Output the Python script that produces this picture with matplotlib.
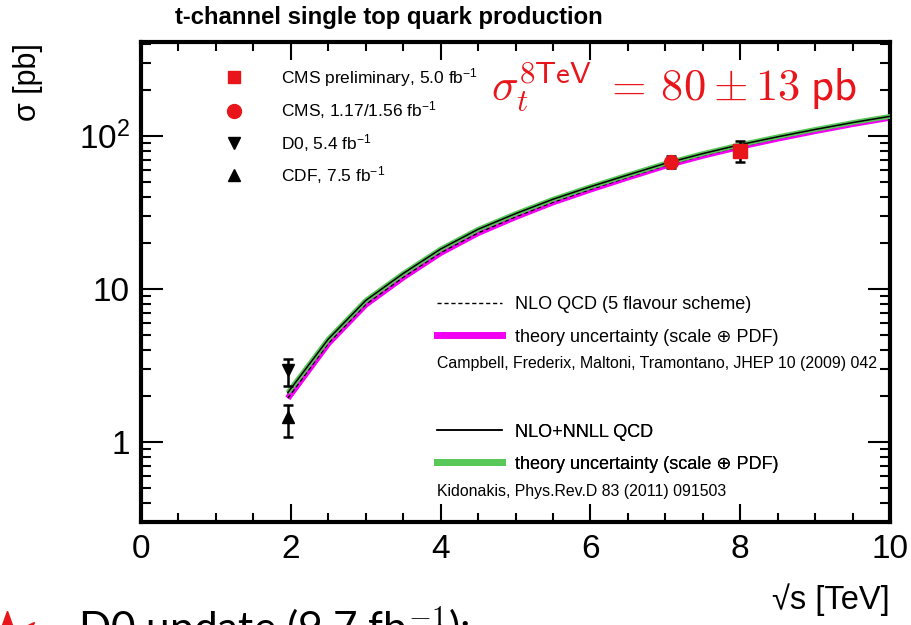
import numpy as np
import matplotlib
matplotlib.use("Agg")
import matplotlib.pyplot as plt
from matplotlib.lines import Line2D
from matplotlib.ticker import MultipleLocator, LogLocator, NullFormatter

plt.rcParams['font.family'] = ['Liberation Sans', 'DejaVu Sans']
plt.rcParams['mathtext.fontset'] = 'custom'
plt.rcParams['mathtext.rm'] = 'Liberation Sans'
plt.rcParams['mathtext.it'] = 'Liberation Sans:italic'
plt.rcParams['mathtext.bf'] = 'Liberation Sans:bold'

# theory predictions, t-channel cross section vs centre-of-mass energy
sqrt_s = [1.96, 2.5, 3.0, 3.5, 4.0, 4.5, 5.0, 5.5, 6.0, 6.5, 7.0, 7.5, 8.0, 8.5, 9.0, 9.5, 10.0]
nlo_nnll = [2.1, 4.7, 8.4, 12.6, 18.2, 24.5, 31.0, 38.5, 46.5, 55.5, 66.0, 76.5, 87.5, 98.5, 110.0, 122.0, 134.0]
nlo_5fs = [1.93, 4.4, 7.9, 11.9, 17.2, 23.2, 29.5, 36.8, 44.6, 53.5, 63.8, 74.2, 85.0, 96.0, 107.5, 119.5, 131.5]

# measurements: (x, sigma, err_down, err_up)
cms8_x, cms8_y, cms8_lo, cms8_hi = 8.0, 80.0, 13.0, 13.0
cms7_x, cms7_y, cms7_lo, cms7_hi = 7.08, 67.2, 6.0, 6.2
d0_x, d0_y, d0_lo, d0_hi = 1.96, 2.95, 0.63, 0.55
cdf_x, cdf_y, cdf_lo, cdf_hi = 1.96, 1.46, 0.39, 0.28

RED = '#e8161b'
MAGENTA = '#f200f2'
GREEN = '#58c858'

fig = plt.figure(figsize=(9.12, 6.25), dpi=100)
ax = fig.add_axes([0.1546, 0.1648, 0.8213, 0.768])

# bands first, central lines on top
ax.plot(sqrt_s, nlo_5fs, color=MAGENTA, lw=4.5, solid_capstyle='butt', zorder=2)
ax.plot(sqrt_s, nlo_5fs, color='black', lw=1.0, ls=(0, (3, 2)), zorder=3)
ax.plot(sqrt_s, nlo_nnll, color=GREEN, lw=3.5, solid_capstyle='butt', zorder=4)
ax.plot(sqrt_s, nlo_nnll, color='black', lw=1.1, zorder=5)

ekw = dict(ecolor='black', elinewidth=1.8, capsize=3.5, capthick=1.8, ls='none', zorder=6)
ax.errorbar([d0_x], [d0_y], yerr=[[d0_lo], [d0_hi]], marker='v', ms=8, color='black', **ekw)
ax.errorbar([cdf_x], [cdf_y], yerr=[[cdf_lo], [cdf_hi]], marker='^', ms=8, color='black', **ekw)
ax.errorbar([cms7_x], [cms7_y], yerr=[[cms7_lo], [cms7_hi]], marker='o', ms=10, color=RED, mec=RED, **ekw)
ax.errorbar([cms8_x], [cms8_y], yerr=[[cms8_lo], [cms8_hi]], marker='s', ms=10, color=RED, mec=RED, **ekw)

ax.set_xlim(0, 10)
ax.set_yscale('log')
ax.set_ylim(0.3, 410)

ax.xaxis.set_major_locator(MultipleLocator(2))
ax.xaxis.set_minor_locator(MultipleLocator(0.5))
ax.set_yticks([1, 10, 100])
ax.set_yticklabels(['1', '10', r'$10^{2}$'])
ax.yaxis.set_minor_locator(LogLocator(base=10, subs=np.arange(2, 10)))
ax.yaxis.set_minor_formatter(NullFormatter())

ax.tick_params(axis='both', which='both', direction='in', top=True, right=True,
               width=1.5, labelsize=24)
ax.tick_params(axis='x', which='major', length=13, pad=9)
ax.tick_params(axis='x', which='minor', length=6.5)
ax.tick_params(axis='y', which='major', length=16, pad=8)
ax.tick_params(axis='y', which='minor', length=7.5)
for sp in ax.spines.values():
    sp.set_linewidth(3.0)

fig.text(0.192, 0.972, 't-channel single top quark production', fontsize=17.2,
         fontweight='bold', ha='left', va='center')
fig.text(0.031, 0.868, r'σ [pb]', rotation=90, fontsize=22, ha='center', va='center')
fig.text(0.976, 0.041, '√s [TeV]', fontsize=23.5, ha='right', va='center')

# measurement legend
h_data = [
    Line2D([], [], ls='none', marker='s', ms=9, color=RED),
    Line2D([], [], ls='none', marker='o', ms=10, color=RED),
    Line2D([], [], ls='none', marker='v', ms=8, color='black'),
    Line2D([], [], ls='none', marker='^', ms=8, color='black'),
]
l_data = [r'CMS preliminary, 5.0 fb$^{-1}$', r'CMS, 1.17/1.56 fb$^{-1}$',
          r'D0, 5.4 fb$^{-1}$', r'CDF, 7.5 fb$^{-1}$']
leg1 = ax.legend(h_data, l_data, loc='upper left', bbox_to_anchor=(0.101, 0.950),
                 frameon=False, fontsize=12.5, handlelength=2.0, handletextpad=1.7,
                 labelspacing=0.6, borderpad=0, borderaxespad=0)
ax.add_artist(leg1)

# NLO 5 flavour scheme legend
h_nlo = [Line2D([], [], color='black', lw=1.0, ls=(0, (3, 2))),
         Line2D([], [], color=MAGENTA, lw=5)]
leg2 = ax.legend(h_nlo, ['NLO QCD (5 flavour scheme)', 'theory uncertainty (scale ⊕ PDF)'],
                 loc='upper left', bbox_to_anchor=(0.395, 0.470), frameon=False,
                 fontsize=13, handlelength=3.6, handletextpad=0.72,
                 labelspacing=0.84, borderpad=0, borderaxespad=0)
ax.add_artist(leg2)
ax.text(0.395, 0.331, 'Campbell, Frederix, Maltoni, Tramontano, JHEP 10 (2009) 042',
        transform=ax.transAxes, fontsize=11.4, ha='left', va='center')

# NLO+NNLL legend
h_nnll = [Line2D([], [], color='black', lw=1.1),
          Line2D([], [], color=GREEN, lw=5)]
leg3 = ax.legend(h_nnll, ['NLO+NNLL QCD', 'theory uncertainty (scale ⊕ PDF)'],
                 loc='upper left', bbox_to_anchor=(0.395, 0.205), frameon=False,
                 fontsize=13, handlelength=3.6, handletextpad=0.72,
                 labelspacing=0.84, borderpad=0, borderaxespad=0)
ax.add_artist(leg3)
ax.text(0.395, 0.063, 'Kidonakis, Phys.Rev.D 83 (2011) 091503',
        transform=ax.transAxes, fontsize=11.4, ha='left', va='center')

ax.text(0.467, 0.877, r'$\sigma_t^{8\mathsf{TeV}} \;=\, 80 \pm 13\;\mathsf{pb}$',
        transform=ax.transAxes, color=RED, fontsize=32, math_fontfamily='cm',
        ha='left', va='baseline')

# slide text running off the bottom
fig.text(0.085, -0.028, r'D0 update (9.7 fb$^{-1}$):', fontsize=30.5,
         family=['Lato', 'DejaVu Sans'], math_fontfamily='cm', ha='left', va='baseline')
fig.add_artist(Line2D([0.008], [-0.038], marker=(8, 1, 0), ms=55, color=RED,
                      transform=fig.transFigure, clip_on=False))

fig.savefig('out.png', dpi=100)
